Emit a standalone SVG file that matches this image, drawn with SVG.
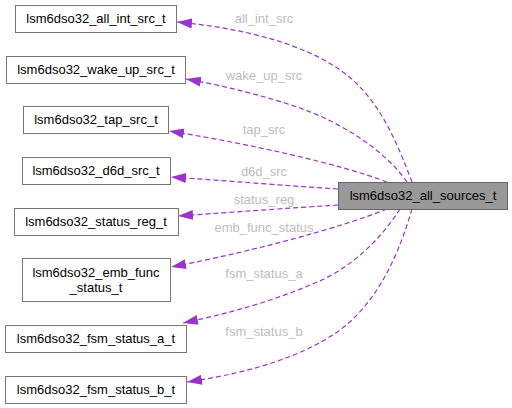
<svg xmlns="http://www.w3.org/2000/svg" width="512" height="408" viewBox="0 0 512 408">
<style>
.n rect{fill:#ffffff;stroke:#777777;stroke-width:1}
.c rect{fill:#999999;stroke:#666666;stroke-width:1}
.n text,.c text{font-family:"Liberation Sans",Arial,sans-serif;font-size:13px;fill:#000000;text-anchor:middle}
.e path{fill:none;stroke:#9a32cd;stroke-width:1.2;stroke-dasharray:5,3;marker-end:url(#ah)}
.e text{font-family:"Liberation Sans",Arial,sans-serif;font-size:13px;fill:#bdbdbd;text-anchor:middle}
</style>
<defs>
<marker id="ah" markerUnits="userSpaceOnUse" markerWidth="15" markerHeight="11" viewBox="0 0 15 11" refX="15" refY="5.5" orient="auto">
<path d="M0,0.5 L15,5.5 L0,10.5 z" fill="#9a32cd"/>
</marker>
</defs>
<g id="edges" class="e">
<path d="M412,182 C396,140 378,96 340,70 C300,42 240,28 177,22"/>
<text x="264" y="23">all_int_src</text>
<path d="M407,182 C385,150 340,122 300,108 C265,96 225,86 186,79"/>
<text x="264" y="80">wake_up_src</text>
<path d="M387,182 C340,164 250,144 169,131"/>
<text x="264" y="134">tap_src</text>
<path d="M338,189 C290,186 230,181 171,177"/>
<text x="264" y="176">d6d_src</text>
<path d="M338,205 C290,208 235,212 178,216"/>
<text x="264" y="204">status_reg</text>
<path d="M387,209 C340,228 250,252 171,267"/>
<text x="264" y="232">emb_func_status</text>
<path d="M400,209 C380,240 350,270 310,285 C275,300 235,312 183,323"/>
<text x="264" y="278">fsm_status_a</text>
<path d="M412,209 C400,250 380,300 340,330 C305,355 255,372 187,382"/>
<text x="264" y="336">fsm_status_b</text>
</g>
<g id="all_sources_t" class="c"><rect x="338.5" y="182.5" width="169" height="27"/><text x="423" y="200">lsm6dso32_all_sources_t</text></g>
<g id="all_int_src_t" class="n"><rect x="15.5" y="5.5" width="161" height="27"/><text x="96" y="23">lsm6dso32_all_int_src_t</text></g>
<g id="wake_up_src_t" class="n"><rect x="6.5" y="56.5" width="179" height="27"/><text x="96" y="74">lsm6dso32_wake_up_src_t</text></g>
<g id="tap_src_t" class="n"><rect x="23.5" y="106.5" width="145" height="27"/><text x="96" y="124">lsm6dso32_tap_src_t</text></g>
<g id="d6d_src_t" class="n"><rect x="22.5" y="157.5" width="148" height="27"/><text x="96" y="175">lsm6dso32_d6d_src_t</text></g>
<g id="status_reg_t" class="n"><rect x="14.5" y="208.5" width="164" height="27"/><text x="96" y="226">lsm6dso32_status_reg_t</text></g>
<g id="emb_func_status_t" class="n"><rect x="22.5" y="258.5" width="148" height="43"/><text x="96" y="277">lsm6dso32_emb_func</text><text x="96" y="292">_status_t</text></g>
<g id="fsm_status_a_t" class="n"><rect x="5.5" y="325.5" width="181" height="27"/><text x="96" y="343">lsm6dso32_fsm_status_a_t</text></g>
<g id="fsm_status_b_t" class="n"><rect x="5.5" y="376.5" width="181" height="27"/><text x="96" y="394">lsm6dso32_fsm_status_b_t</text></g>
</svg>
